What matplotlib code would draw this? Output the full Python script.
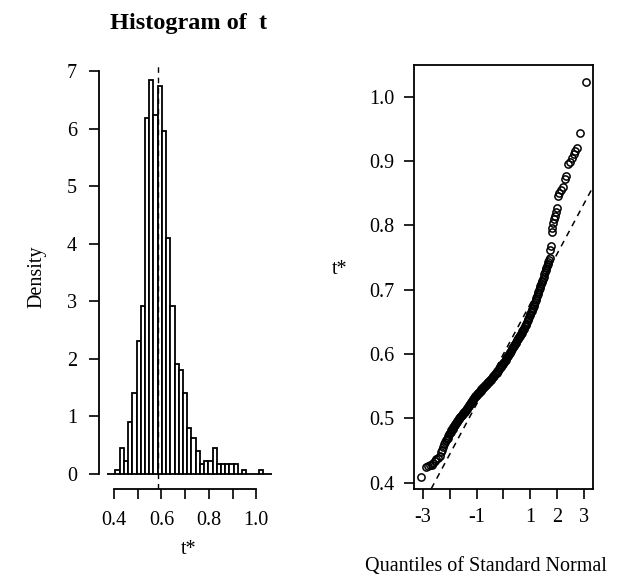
"""Bootstrap plot: histogram of t* and normal QQ plot"""
import numpy as np
import matplotlib
matplotlib.use('Agg')
import matplotlib.pyplot as plt

plt.rcParams['font.family'] = ['Liberation Serif', 'DejaVu Serif']
plt.rcParams['font.size'] = 14.5

# bootstrap original statistic and histogram bin width
T0 = 0.584
BIN_WIDTH = 0.0178
FIRST_BIN = -12          # bins start 12 widths left of t0
DENSITY = [0, 0, 0.056, 0.45, 0.225, 0.90, 1.41, 2.30, 2.92, 6.18,
           6.85, 6.24, 6.74, 5.96, 4.10, 2.92, 1.91, 1.80, 1.41, 0.79,
           0.62, 0.39, 0.17, 0.225, 0.225, 0.45, 0.17, 0.17, 0.17, 0.17,
           0.17, 0, 0.056, 0, 0, 0, 0.056, 0, 0]

# QQ plot points (lower tail, dense band, upper tail)
QQ_X = [-3.07, -2.88, -2.80, -2.74, -2.68, -2.62, -2.56, -2.50, -2.44, -2.38,
        -2.33, -2.29, -2.25, -2.21, -2.17, -2.13,
        -2.100, -2.075, -2.050, -2.025, -2.000, -1.975, -1.950, -1.925,
        -1.900, -1.875, -1.850, -1.825, -1.800, -1.775, -1.750, -1.725,
        -1.700, -1.675, -1.650, -1.625, -1.600, -1.575, -1.550, -1.525,
        -1.500, -1.475, -1.450, -1.425, -1.400, -1.375, -1.350, -1.325,
        -1.300, -1.275, -1.250, -1.225, -1.200, -1.175, -1.150, -1.125,
        -1.100, -1.075, -1.050, -1.025, -1.000, -0.975, -0.950, -0.925,
        -0.900, -0.875, -0.850, -0.825, -0.800, -0.775, -0.750, -0.725,
        -0.700, -0.675, -0.650, -0.625, -0.600, -0.575, -0.550, -0.525,
        -0.500, -0.475, -0.450, -0.425, -0.400, -0.375, -0.350, -0.325,
        -0.300, -0.275, -0.250, -0.225, -0.200, -0.175, -0.150, -0.125,
        -0.100, -0.075, -0.050, -0.025, 0.000, 0.025, 0.050, 0.075,
        0.100, 0.125, 0.150, 0.175, 0.200, 0.225, 0.250, 0.275,
        0.300, 0.325, 0.350, 0.375, 0.400, 0.425, 0.450, 0.475,
        0.500, 0.525, 0.550, 0.575, 0.600, 0.625, 0.650, 0.675,
        0.700, 0.725, 0.750, 0.775, 0.800, 0.825, 0.850, 0.875,
        0.900, 0.925, 0.950, 0.975, 1.000, 1.025, 1.050, 1.075,
        1.100, 1.125, 1.150, 1.175, 1.200, 1.225, 1.250, 1.275,
        1.300, 1.325, 1.350, 1.375, 1.400, 1.425, 1.450, 1.475,
        1.500, 1.525, 1.550, 1.575, 1.600, 1.625, 1.650, 1.675, 1.700,
        1.73, 1.75, 1.77, 1.80, 1.82, 1.85, 1.88, 1.91, 1.95, 1.99,
        2.04, 2.08, 2.13, 2.20, 2.28, 2.34, 2.42, 2.48, 2.55, 2.62,
        2.68, 2.74, 2.85, 3.07]
QQ_Y = [0.409, 0.425, 0.426, 0.427, 0.428, 0.430, 0.433, 0.436, 0.439, 0.442,
        0.447, 0.451, 0.456, 0.460, 0.463, 0.466,
        0.468, 0.470, 0.472, 0.475, 0.477, 0.479, 0.481, 0.483,
        0.484, 0.486, 0.488, 0.490, 0.491, 0.493, 0.494, 0.496,
        0.497, 0.499, 0.500, 0.502, 0.503, 0.504, 0.505, 0.507,
        0.508, 0.509, 0.510, 0.512, 0.513, 0.515, 0.516, 0.518,
        0.519, 0.521, 0.522, 0.524, 0.525, 0.527, 0.528, 0.530,
        0.531, 0.533, 0.534, 0.535, 0.536, 0.538, 0.539, 0.540,
        0.541, 0.542, 0.543, 0.545, 0.546, 0.547, 0.548, 0.549,
        0.550, 0.551, 0.552, 0.554, 0.555, 0.556, 0.557, 0.558,
        0.559, 0.560, 0.561, 0.563, 0.564, 0.565, 0.566, 0.568,
        0.569, 0.570, 0.571, 0.573, 0.574, 0.576, 0.577, 0.579,
        0.580, 0.582, 0.583, 0.585, 0.586, 0.588, 0.589, 0.591,
        0.593, 0.595, 0.597, 0.599, 0.600, 0.602, 0.603, 0.605,
        0.607, 0.609, 0.610, 0.612, 0.614, 0.616, 0.617, 0.619,
        0.621, 0.623, 0.624, 0.626, 0.628, 0.630, 0.631, 0.633,
        0.635, 0.637, 0.639, 0.641, 0.643, 0.645, 0.647, 0.650,
        0.652, 0.655, 0.657, 0.660, 0.662, 0.665, 0.667, 0.670,
        0.672, 0.675, 0.678, 0.681, 0.684, 0.687, 0.690, 0.693,
        0.696, 0.699, 0.702, 0.705, 0.708, 0.711, 0.714, 0.717,
        0.720, 0.724, 0.727, 0.731, 0.734, 0.737, 0.740, 0.743, 0.746,
        0.749, 0.762, 0.768, 0.790, 0.795, 0.804, 0.810, 0.815, 0.820, 0.826,
        0.845, 0.850, 0.854, 0.860, 0.872, 0.877, 0.895, 0.899, 0.905, 0.910,
        0.915, 0.920, 0.944, 1.023]

# reference line: intercept = mean(t*), slope = sd(t*)
LINE_A = 0.600
LINE_B = 0.0778

fig = plt.figure(figsize=(6.26, 5.81), dpi=100)
ax1 = fig.add_axes([0.1586, 0.1583, 0.285, 0.7298])
ax2 = fig.add_axes([0.6618, 0.1583, 0.285, 0.7298])

# --- histogram ---
lefts = T0 + (FIRST_BIN + np.arange(len(DENSITY))) * BIN_WIDTH
ax1.bar(lefts, DENSITY, width=BIN_WIDTH, align='edge', facecolor='white',
        edgecolor='black', linewidth=1.3)
ax1.axvline(T0, color='black', linestyle=(0, (4, 3.5)), linewidth=1.0)
ax1.set_xlim(0.338, 1.09)
ax1.set_ylim(-0.27, 7.11)
for s in ['top', 'right']:
    ax1.spines[s].set_visible(False)
ax1.spines['left'].set_bounds(0, 7)
ax1.spines['bottom'].set_bounds(0.4, 1.0)
ax1.set_xticks([0.4, 0.5, 0.6, 0.7, 0.8, 0.9, 1.0])
ax1.set_xticklabels(['0.4', '', '0.6', '', '0.8', '', '1.0'])
ax1.set_yticks(range(8))
ax1.tick_params(length=7, width=1.2, pad=9)
for s in ['left', 'bottom']:
    ax1.spines[s].set_linewidth(1.3)
ax1.set_ylabel('Density', labelpad=15)

# --- QQ plot ---
qx = np.array([-3.5, 3.5])
ax2.plot(qx, LINE_A + LINE_B * qx, color='black', linestyle=(0, (4, 3.5)),
         linewidth=1.1)
ax2.plot(QQ_X, QQ_Y, 'o', markersize=5.2, markerfacecolor='none',
         markeredgecolor='black', markeredgewidth=1.1)
ax2.set_xlim(-3.325, 3.325)
ax2.set_ylim(0.390, 1.049)
ax2.set_xticks([-3, -2, -1, 0, 1, 2, 3])
ax2.set_xticklabels(['-3', '', '-1', '', '1', '2', '3'])
ax2.set_yticks([0.4, 0.5, 0.6, 0.7, 0.8, 0.9, 1.0])
ax2.set_yticklabels(['0.4', '0.5', '0.6', '0.7', '0.8', '0.9', '1.0'])
ax2.tick_params(length=7, width=1.2, pad=7)
for s in ax2.spines.values():
    s.set_linewidth(1.3)

fig.text(188.5 / 626, 1 - 24 / 581, 'Histogram of  t', ha='center',
         va='center', fontsize=17.5, fontweight='bold')
fig.text(188.5 / 626, 1 - 550 / 581, 't*', ha='center', va='center')
fig.text(486 / 626, 1 - 566 / 581, 'Quantiles of Standard Normal',
         ha='center', va='center')
fig.text(340 / 626, 1 - 270 / 581, 't*', ha='center', va='center')

fig.savefig('out.png', dpi=100)
